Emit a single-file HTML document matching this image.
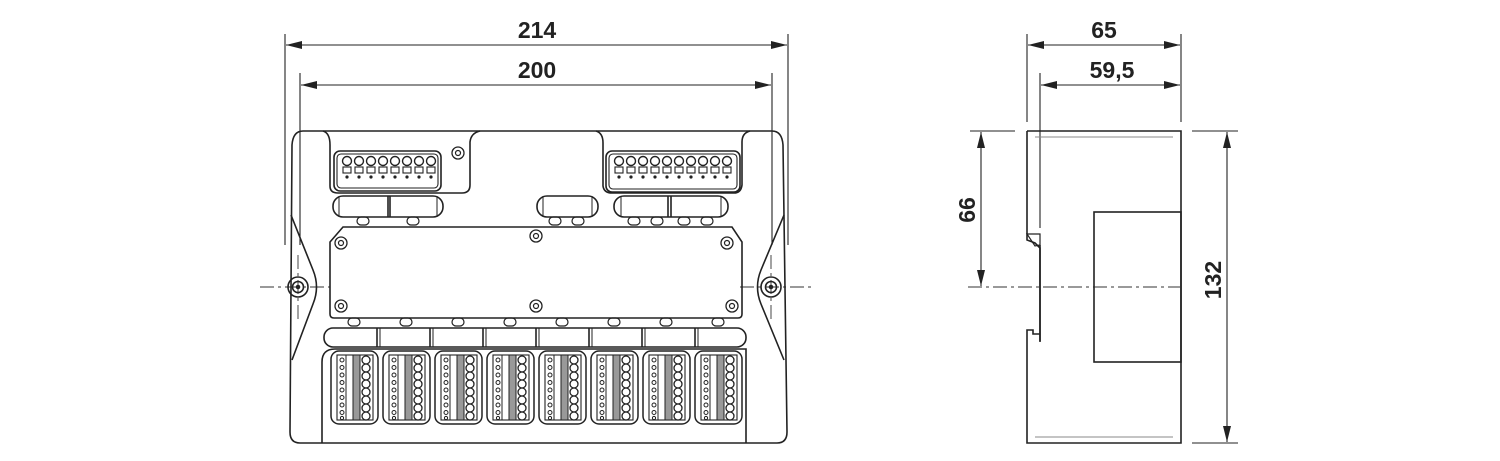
<!DOCTYPE html>
<html><head><meta charset="utf-8"><style>
html,body{margin:0;padding:0;background:#fff;}
svg{display:block}
text{font-family:"Liberation Sans",sans-serif;font-weight:bold;font-size:23px;fill:#222}
</style></head><body>
<svg width="1500" height="461" viewBox="0 0 1500 461" xmlns="http://www.w3.org/2000/svg">
<defs>
<marker id="a" viewBox="0 0 16 8" refX="16" refY="4" markerWidth="16" markerHeight="8" orient="auto-start-reverse" markerUnits="userSpaceOnUse"><path d="M0,0 L16,4 L0,8z" fill="#222"/></marker>
<g id="scr"><circle r="6" fill="#fff" stroke="#222" stroke-width="1.3"/><circle r="2.5" fill="none" stroke="#222" stroke-width="1.2"/></g>
<g id="ov"><rect x="-6" y="-4" width="12" height="8" rx="4" fill="none" stroke="#222" stroke-width="1.2"/></g>
<g id="pin"><circle cx="0" cy="0" r="4.5" fill="none" stroke="#222" stroke-width="1.4"/><rect x="-4" y="6" width="8" height="6" fill="none" stroke="#222" stroke-width="1.1"/><circle cx="0" cy="16" r="1.6" fill="#222"/></g>
<g id="mod">
<rect x="0" y="0" width="47" height="73" rx="8" fill="none" stroke="#222" stroke-width="1.5"/>
<rect x="6" y="4" width="36" height="65" fill="none" stroke="#222" stroke-width="1.1"/>
<line x1="15" y1="4" x2="15" y2="69" stroke="#222" stroke-width="1"/>
<rect x="22" y="4" width="7" height="65" fill="#999" stroke="#222" stroke-width="1"/>
<g fill="#fff" stroke="#222" stroke-width="1">
<circle cx="11" cy="9" r="2"/><circle cx="11" cy="16.5" r="2"/><circle cx="11" cy="24" r="2"/><circle cx="11" cy="31.5" r="2"/><circle cx="11" cy="39" r="2"/><circle cx="11" cy="46.5" r="2"/><circle cx="11" cy="54" r="2"/><circle cx="11" cy="61.5" r="2"/><circle cx="11" cy="67" r="1.6"/>
</g>
<g fill="#fff" stroke="#222" stroke-width="1.3">
<circle cx="35" cy="9" r="4"/><circle cx="35" cy="17" r="4"/><circle cx="35" cy="25" r="4"/><circle cx="35" cy="33" r="4"/><circle cx="35" cy="41" r="4"/><circle cx="35" cy="49" r="4"/><circle cx="35" cy="57" r="4"/><circle cx="35" cy="65" r="4"/>
</g>
</g>
</defs>

<g stroke="#222" stroke-width="1.1" fill="none">
<line x1="285" y1="34" x2="285" y2="245"/><line x1="788" y1="34" x2="788" y2="245"/>
<line x1="300" y1="73" x2="300" y2="245"/><line x1="772" y1="73" x2="772" y2="245"/>
<line x1="286" y1="45" x2="787" y2="45" marker-start="url(#a)" marker-end="url(#a)"/>
<line x1="301" y1="85" x2="771" y2="85" marker-start="url(#a)" marker-end="url(#a)"/>
</g>
<text x="537" y="38" text-anchor="middle">214</text>
<text x="537" y="78" text-anchor="middle">200</text>

<g stroke="#333" stroke-width="0.9" fill="none" stroke-dasharray="14,4,3,4">
<line x1="260" y1="287" x2="330" y2="287"/><line x1="740" y1="287" x2="812" y2="287"/>
<line x1="298" y1="255" x2="298" y2="320"/><line x1="771" y1="255" x2="771" y2="320"/>
</g>

<g stroke="#222" stroke-width="1.6" fill="none">
<path d="M303,131 L772,131 Q782,131 783,145 L787,432 Q787,443 777,443 L300,443 Q290,443 290,432 L292,145 Q293,131 303,131 Z"/>
<path d="M291,215 L313,270 Q320,287 313,304 L292,360"/>
<path d="M784,215 L761,270 Q754,287 761,304 L784,360"/>
<circle cx="298" cy="287" r="10"/><circle cx="298" cy="287" r="5.5"/><circle cx="298" cy="287" r="1.5" fill="#222"/>
<circle cx="771" cy="287" r="10"/><circle cx="771" cy="287" r="5.5"/><circle cx="771" cy="287" r="1.5" fill="#222"/>
<path d="M323,131 Q330,133 330,145 L330,186 Q330,193 338,193 L462,193 Q470,193 470,185 L470,142 Q471,133 480,131"/>
<path d="M596,131 Q603,133 603,143 L603,186 Q604,193 612,193 L734,193 Q741,193 742,185 L742,142 Q742,133 750,131"/>
<rect x="334" y="151" width="107" height="40" rx="6"/>
<rect x="337" y="154" width="101" height="34" rx="4" stroke-width="1.1"/>
<rect x="606" y="151" width="134" height="41" rx="6"/>
<rect x="609" y="154" width="128" height="35" rx="4" stroke-width="1.1"/>
<rect x="333" y="196" width="110" height="21" rx="10"/><line x1="388" y1="196" x2="388" y2="217"/><line x1="390" y1="196" x2="390" y2="217"/>
<line x1="339" y1="196" x2="339" y2="217" stroke-width="1"/><line x1="437" y1="196" x2="437" y2="217" stroke-width="1"/>
<rect x="537" y="196" width="61" height="21" rx="10"/><line x1="543" y1="196" x2="543" y2="217" stroke-width="1"/><line x1="592" y1="196" x2="592" y2="217" stroke-width="1"/>
<rect x="614" y="196" width="114" height="21" rx="10"/><line x1="668" y1="196" x2="668" y2="217"/><line x1="671" y1="196" x2="671" y2="217"/>
<line x1="621" y1="196" x2="621" y2="217" stroke-width="1"/><line x1="721" y1="196" x2="721" y2="217" stroke-width="1"/>
<path d="M343,227 L732,227 L742,242 L742,314 Q742,318 738,318 L334,318 Q330,318 330,314 L330,242 Z"/>
<rect x="324" y="328" width="422" height="19" rx="9"/>
<line x1="377" y1="328" x2="377" y2="347"/><line x1="430" y1="328" x2="430" y2="347"/><line x1="483" y1="328" x2="483" y2="347"/><line x1="536" y1="328" x2="536" y2="347"/><line x1="589" y1="328" x2="589" y2="347"/><line x1="642" y1="328" x2="642" y2="347"/><line x1="695" y1="328" x2="695" y2="347"/>
<line x1="380" y1="328" x2="380" y2="347" stroke-width="1"/><line x1="433" y1="328" x2="433" y2="347" stroke-width="1"/><line x1="486" y1="328" x2="486" y2="347" stroke-width="1"/><line x1="539" y1="328" x2="539" y2="347" stroke-width="1"/><line x1="592" y1="328" x2="592" y2="347" stroke-width="1"/><line x1="645" y1="328" x2="645" y2="347" stroke-width="1"/><line x1="698" y1="328" x2="698" y2="347" stroke-width="1"/>
<path d="M335,349 L746,349 L746,443 M322,443 L322,362 Q322,349 335,349"/>
</g>
<use href="#scr" x="458" y="153"/>
<use href="#scr" x="341" y="243"/><use href="#scr" x="536" y="236"/><use href="#scr" x="727" y="243"/>
<use href="#scr" x="341" y="306"/><use href="#scr" x="536" y="306"/><use href="#scr" x="732" y="306"/>
<use href="#ov" x="363" y="221"/><use href="#ov" x="413" y="221"/><use href="#ov" x="555" y="221"/><use href="#ov" x="578" y="221"/>
<use href="#ov" x="634" y="221"/><use href="#ov" x="657" y="221"/><use href="#ov" x="684" y="221"/><use href="#ov" x="707" y="221"/>
<use href="#ov" x="354" y="322"/><use href="#ov" x="406" y="322"/><use href="#ov" x="458" y="322"/><use href="#ov" x="510" y="322"/><use href="#ov" x="562" y="322"/><use href="#ov" x="614" y="322"/><use href="#ov" x="666" y="322"/><use href="#ov" x="718" y="322"/>
<use href="#pin" x="347" y="161"/><use href="#pin" x="359" y="161"/><use href="#pin" x="371" y="161"/><use href="#pin" x="383" y="161"/><use href="#pin" x="395" y="161"/><use href="#pin" x="407" y="161"/><use href="#pin" x="419" y="161"/><use href="#pin" x="431" y="161"/>
<use href="#pin" x="619" y="161"/><use href="#pin" x="631" y="161"/><use href="#pin" x="643" y="161"/><use href="#pin" x="655" y="161"/><use href="#pin" x="667" y="161"/><use href="#pin" x="679" y="161"/><use href="#pin" x="691" y="161"/><use href="#pin" x="703" y="161"/><use href="#pin" x="715" y="161"/><use href="#pin" x="727" y="161"/>
<use href="#mod" x="331" y="351"/><use href="#mod" x="383" y="351"/><use href="#mod" x="435" y="351"/><use href="#mod" x="487" y="351"/><use href="#mod" x="539" y="351"/><use href="#mod" x="591" y="351"/><use href="#mod" x="643" y="351"/><use href="#mod" x="695" y="351"/>

<g stroke="#222" stroke-width="1.1" fill="none">
<line x1="1027" y1="34" x2="1027" y2="122"/><line x1="1181" y1="34" x2="1181" y2="122"/>
<line x1="1040" y1="73" x2="1040" y2="228"/>
<line x1="1028" y1="45" x2="1180" y2="45" marker-start="url(#a)" marker-end="url(#a)"/>
<line x1="1041" y1="85" x2="1180" y2="85" marker-start="url(#a)" marker-end="url(#a)"/>
<line x1="970" y1="131" x2="1015" y2="131"/><line x1="1192" y1="131" x2="1238" y2="131"/>
<line x1="1192" y1="443" x2="1238" y2="443"/>
<line x1="981" y1="132" x2="981" y2="286" marker-start="url(#a)" marker-end="url(#a)"/>
<line x1="1227" y1="132" x2="1227" y2="442" marker-start="url(#a)" marker-end="url(#a)"/>
</g>
<g stroke="#333" stroke-width="0.9" fill="none" stroke-dasharray="14,4,3,4">
<line x1="968" y1="287" x2="1180" y2="287"/>
</g>
<g stroke="#888" stroke-width="1" fill="none">
<line x1="1035" y1="137" x2="1173" y2="137"/><line x1="1035" y1="437" x2="1173" y2="437"/>
</g>
<g stroke="#222" stroke-width="1.6" fill="none">
<path d="M1027,131 L1181,131 L1181,443 L1027,443 L1027,330 L1033,330 L1033,334 L1040,334 L1040,341 L1040,248 L1035,243 L1027,240 L1027,131"/>
<path d="M1027,234 L1040,234 L1040,245 L1035,246 Z" stroke-width="1.2"/>
<rect x="1094" y="212" width="87" height="150"/>
<line x1="1040" y1="245" x2="1040" y2="342"/>
</g>
<text x="1104" y="38" text-anchor="middle">65</text>
<text x="1112" y="78" text-anchor="middle">59,5</text>
<text transform="translate(975,210) rotate(-90)" text-anchor="middle">66</text>
<text transform="translate(1221,280) rotate(-90)" text-anchor="middle">132</text>
</svg>
</body></html>
